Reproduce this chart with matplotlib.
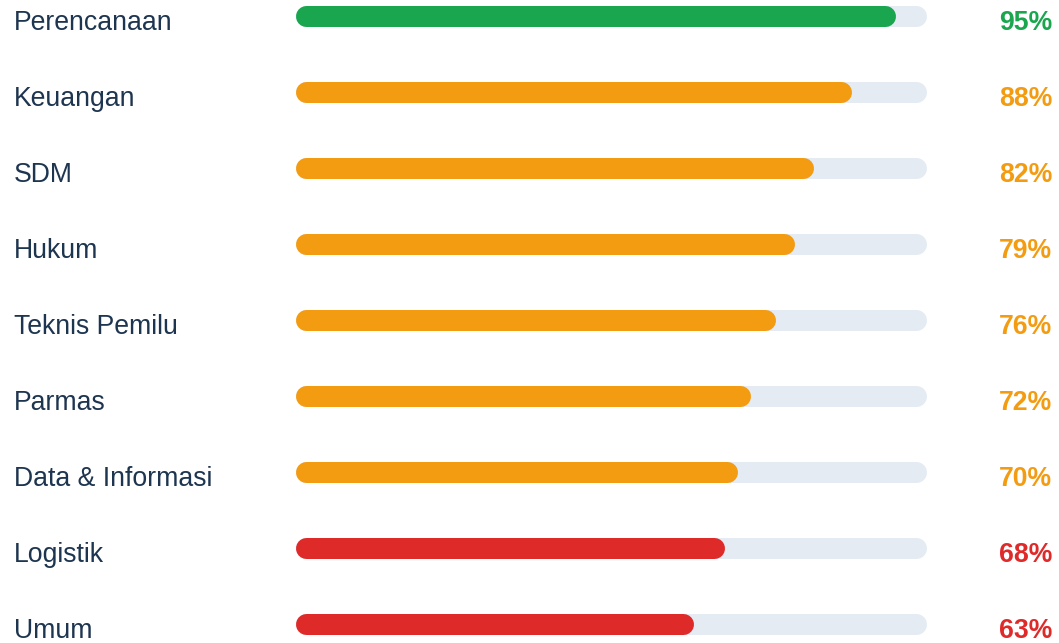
import matplotlib
matplotlib.use("Agg")
import matplotlib.pyplot as plt

# data
categories = ["Perencanaan", "Keuangan", "SDM", "Hukum", "Teknis Pemilu",
              "Parmas", "Data & Informasi", "Logistik", "Umum"]
scores = [95, 88, 82, 79, 76, 72, 70, 68, 63]

GREEN = "#1aa64f"
ORANGE = "#f39c12"
RED = "#df2a2a"
TRACK = "#e5ebf3"
TEXT = "#1e3550"


def bar_color(v):
    if v >= 90:
        return GREEN
    if v >= 70:
        return ORANGE
    return RED


plt.rcParams["font.family"] = ["Liberation Sans", "DejaVu Sans"]

W, H, DPI = 1059, 643, 100
fig = plt.figure(figsize=(W / DPI, H / DPI), dpi=DPI)
ax = fig.add_axes([0, 0, 1, 1])

# pixel layout of the track: 295 -> 927 px, rows 76 px apart
px_per_unit = (927 - 295) / 100.0
x_left = -295 / px_per_unit
x_right = (W - 295) / px_per_unit
row_px = 76.0
first_px = 15.5
ax.set_xlim(x_left, x_right)
ax.set_ylim((H - first_px) / row_px, -first_px / row_px)
ax.axis("off")

bar_px = 21
lw = bar_px * 72.0 / DPI
r = (bar_px / 2) / px_per_unit
text_off = 15.0 / row_px

for i, (cat, v) in enumerate(zip(categories, scores)):
    c = bar_color(v)
    ax.plot([r, 100 - r], [i, i], color=TRACK, lw=lw, solid_capstyle="round")
    ax.plot([r, v - r], [i, i], color=c, lw=lw, solid_capstyle="round")
    ax.text(14 / px_per_unit + x_left, i + text_off, cat, fontsize=19.2,
            color=TEXT, ha="left", va="baseline")
    ax.text((1052 - 295) / px_per_unit, i + text_off, f"{v}%", fontsize=19.2,
            fontweight="bold", color=c, ha="right", va="baseline")

fig.savefig("out.png", dpi=DPI)
